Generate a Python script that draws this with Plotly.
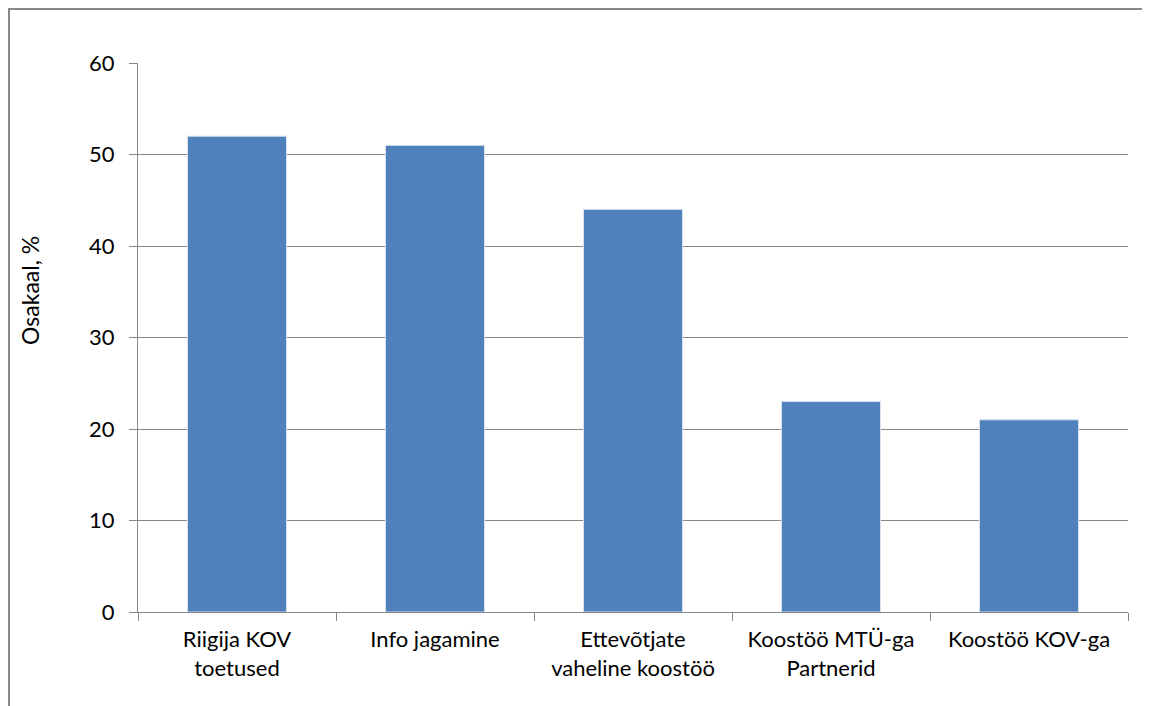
import plotly.graph_objects as go

categories = [
    "Riigija KOV<br>toetused",
    "Info jagamine",
    "Ettevõtjate<br>vaheline koostöö",
    "Koostöö MTÜ-ga<br>Partnerid",
    "Koostöö KOV-ga",
]
values = [52, 51, 44, 23, 21]
y_ticks = [0, 10, 20, 30, 40, 50, 60]

fig = go.Figure()

fig.add_trace(
    go.Bar(
        x=categories,
        y=values,
        marker=dict(color="#4F81BD", line=dict(color="#D6E0EE", width=1)),
        width=0.5,
    )
)

# page has an 8px body margin, so margins are shifted by that
fig.update_layout(
    width=1150,
    height=706,
    margin=dict(l=130, r=30, t=55, b=102),
    paper_bgcolor="white",
    plot_bgcolor="white",
    showlegend=False,
    font=dict(family="Lato, Carlito, sans-serif", size=22, color="black"),
    shapes=[
        dict(
            type="rect", xref="paper", yref="paper",
            x0=-0.1303, x1=1.05, y0=-0.25, y1=1.0984,
            line=dict(color="#888888", width=2), fillcolor="rgba(0,0,0,0)",
            layer="below",
        )
    ],
    # y title sits above the plot centre, like in the original
    annotations=[
        dict(
            text="Osakaal, %", xref="paper", yref="paper",
            x=-0.109, y=0.585, showarrow=False, textangle=-90,
            font=dict(size=23), xanchor="center", yanchor="middle",
        )
    ],
)

fig.update_xaxes(
    showline=True, linecolor="#888888", linewidth=1,
    ticks="outside", ticklen=8, tickcolor="#888888", tickson="boundaries",
    showgrid=False, tickfont=dict(size=22), ticklabelstandoff=8,
)

fig.update_yaxes(
    range=[0, 60], tickvals=y_ticks,
    showline=True, linecolor="#888888", linewidth=1,
    ticks="outside", ticklen=8, tickcolor="#888888",
    showgrid=True, gridcolor="#888888", gridwidth=1,
    zeroline=False, tickfont=dict(size=22), ticklabelstandoff=10,
)

fig.write_html("out.html")
